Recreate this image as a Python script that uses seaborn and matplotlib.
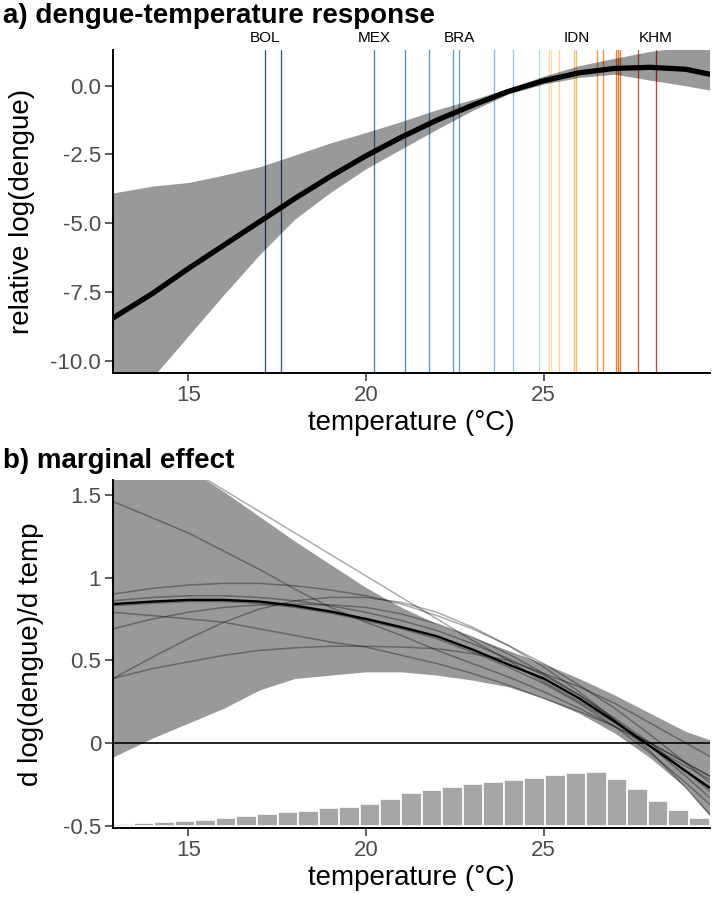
import numpy as np
import pandas as pd
import matplotlib
matplotlib.use('Agg')
import matplotlib.pyplot as plt
import matplotlib.transforms as mtransforms
from matplotlib.colors import LinearSegmentedColormap, Normalize
import seaborn as sns

# temperature grid the curves were read at
TEMP = [12.88, 14, 15, 16, 17, 18, 19, 20, 21, 22, 23, 24, 25, 26, 27, 28, 29, 29.67]

# a) response curve and its band
RESP_MEAN = [-8.45, -7.55, -6.65, -5.8, -4.95, -4.1, -3.3, -2.55, -1.87, -1.25,
             -0.71, -0.21, 0.18, 0.47, 0.63, 0.67, 0.6, 0.42]
RESP_LO = [-12.5, -10.6, -9.1, -7.6, -6.15, -4.85, -3.88, -3.02, -2.3, -1.58,
           -0.9, -0.3, 0.06, 0.3, 0.42, 0.2, 0.0, -0.16]
RESP_HI = [-3.9, -3.65, -3.52, -3.25, -2.95, -2.52, -2.08, -1.7, -1.3, -0.87,
           -0.5, -0.1, 0.35, 0.73, 1.0, 1.25, 1.42, 1.55]

# mean temperature of each country
COUNTRY_TEMP = [17.17, 17.61, 20.23, 21.11, 21.78, 22.45, 22.62, 23.61, 24.14, 24.88,
                25.14, 25.22, 25.44, 25.85, 25.92, 26.50, 26.68, 27.05, 27.10, 27.15,
                27.67, 28.16]
LABELLED = {'BOL': 17.17, 'MEX': 20.23, 'BRA': 22.62, 'IDN': 25.92, 'KHM': 28.16}
COLOR_NODE_TEMP = [17.17, 22.5, 24.9, 25.2, 26.5, 27.1, 28.16]
COLOR_NODE_HEX = ['#2a5689', '#5d9fc8', '#a9dce6', '#fde3a0', '#f59a40', '#ee752d', '#d1433a']

# b) marginal effect
MARG_MEAN = [0.84, 0.855, 0.865, 0.865, 0.855, 0.83, 0.795, 0.75, 0.70, 0.645,
             0.565, 0.475, 0.39, 0.27, 0.13, -0.02, -0.17, -0.27]
MARG_LO = [-0.085, 0.03, 0.12, 0.21, 0.32, 0.39, 0.41, 0.43, 0.43, 0.41,
           0.38, 0.34, 0.27, 0.18, 0.06, -0.09, -0.27, -0.44]
MARG_HI = [2.3, 1.95, 1.66, 1.52, 1.37, 1.22, 1.08, 0.94, 0.82, 0.72,
           0.64, 0.56, 0.48, 0.39, 0.29, 0.18, 0.07, 0.02]
MARG_CURVES = {
    'c1': [1.46, 1.36, 1.27, 1.16, 1.05, 0.93, 0.82, 0.73, 0.65, 0.56, 0.48, 0.40, 0.31, 0.21, 0.10, -0.02, -0.14, -0.22],
    'c2': [0.90, 0.935, 0.955, 0.965, 0.965, 0.95, 0.925, 0.89, 0.84, 0.77, 0.69, 0.59, 0.48, 0.35, 0.21, 0.05, -0.12, -0.24],
    'c3': [0.79, 0.77, 0.75, 0.73, 0.69, 0.65, 0.61, 0.58, 0.53, 0.48, 0.42, 0.35, 0.27, 0.19, 0.10, 0.0, -0.12, -0.20],
    'c4': [0.69, 0.75, 0.79, 0.82, 0.835, 0.84, 0.835, 0.82, 0.78, 0.72, 0.64, 0.54, 0.42, 0.29, 0.14, -0.02, -0.20, -0.33],
    'c5': [0.39, 0.52, 0.63, 0.73, 0.81, 0.86, 0.88, 0.88, 0.85, 0.79, 0.70, 0.59, 0.46, 0.31, 0.14, -0.05, -0.27, -0.43],
    'c6': [0.39, 0.45, 0.49, 0.53, 0.56, 0.575, 0.585, 0.585, 0.58, 0.57, 0.54, 0.50, 0.42, 0.34, 0.24, 0.12, 0.0, -0.08],
    'c7': [0.86, 0.88, 0.89, 0.89, 0.88, 0.86, 0.83, 0.79, 0.74, 0.68, 0.60, 0.51, 0.41, 0.29, 0.15, 0.0, -0.17, -0.29],
    'c8': [0.83, 0.845, 0.855, 0.855, 0.845, 0.82, 0.785, 0.74, 0.69, 0.63, 0.55, 0.46, 0.36, 0.24, 0.10, -0.06, -0.24, -0.37],
    'c9': [1.93, 1.79, 1.66, 1.53, 1.40, 1.27, 1.14, 1.01, 0.88, 0.75, 0.62, 0.50, 0.37, 0.25, 0.12, 0.0, -0.12, -0.20],
}
# share of observations per temperature bin (29 bins over the x range)
HIST_SHARE = [0.01, 0.014, 0.02, 0.026, 0.034, 0.046, 0.06, 0.07, 0.08, 0.09,
              0.107, 0.115, 0.131, 0.162, 0.196, 0.216, 0.236, 0.254, 0.265, 0.276,
              0.289, 0.305, 0.318, 0.325, 0.28, 0.22, 0.148, 0.096, 0.045]

X_LIM = (12.88, 29.67)
X_TICKS = [15, 20, 25]
A_TICKS = [0.0, -2.5, -5.0, -7.5, -10.0]
A_TICKLABELS = ['0.0', '-2.5', '-5.0', '-7.5', '-10.0']
B_TICKS = [1.5, 1, 0.5, 0, -0.5]
B_TICKLABELS = ['1.5', '1', '0.5', '0', '-0.5']

sns.set_theme(style='ticks')
plt.rcParams['font.family'] = ['Liberation Sans', 'DejaVu Sans']
plt.rcParams['axes.unicode_minus'] = False
plt.rcParams['text.color'] = 'black'
plt.rcParams['axes.labelcolor'] = 'black'

W, H = 714, 899
fig = plt.figure(figsize=(W / 100, H / 100), dpi=100)
ax_a = fig.add_axes([113 / W, 1 - 373 / H, 596.5 / W, 323 / H])
ax_b = fig.add_axes([113 / W, 1 - 828.3 / H, 596.5 / W, 348.3 / H])

# --- a) response
pos = [(t - COLOR_NODE_TEMP[0]) / (COLOR_NODE_TEMP[-1] - COLOR_NODE_TEMP[0]) for t in COLOR_NODE_TEMP]
cmap = LinearSegmentedColormap.from_list('temp', list(zip(pos, COLOR_NODE_HEX)))
norm = Normalize(min(COUNTRY_TEMP), max(COUNTRY_TEMP))
for t in COUNTRY_TEMP:
    ax_a.axvline(t, color=cmap(norm(t)), lw=0.95, zorder=1)

ax_a.fill_between(TEMP, RESP_LO, RESP_HI, color='black', alpha=0.4, lw=0, zorder=2)
resp = pd.DataFrame({'temp': TEMP, 'resp': RESP_MEAN})
sns.lineplot(data=resp, x='temp', y='resp', ax=ax_a, color='black', lw=3.8, zorder=3)

trans = mtransforms.blended_transform_factory(ax_a.transData, ax_a.transAxes)
for name, t in LABELLED.items():
    ax_a.text(t, 1.014, name, transform=trans, ha='center', va='bottom',
              fontsize=11, color='black', clip_on=False)

ax_a.set_ylim(-10.45, 1.3)
ax_a.set_yticks(A_TICKS)
ax_a.set_yticklabels(A_TICKLABELS)
ax_a.set_ylabel('relative log(dengue)', fontsize=20)
ax_a.yaxis.set_label_coords(-0.13, 0.5)

# --- b) marginal effect
edges = np.linspace(X_LIM[0], X_LIM[1], len(HIST_SHARE) + 1)
centers = (edges[:-1] + edges[1:]) / 2
ax_b.bar(centers, HIST_SHARE, width=edges[1] - edges[0], bottom=-0.5,
         color='#a6a6a6', edgecolor='white', lw=1.2, zorder=1)

ax_b.fill_between(TEMP, MARG_LO, MARG_HI, color='black', alpha=0.4, lw=0, zorder=2)
curves = pd.DataFrame([(k, t, v) for k, vals in MARG_CURVES.items() for t, v in zip(TEMP, vals)],
                      columns=['curve', 'temp', 'effect'])
sns.lineplot(data=curves, x='temp', y='effect', units='curve', estimator=None,
             ax=ax_b, color='black', alpha=0.33, lw=1.1, zorder=3)
marg = pd.DataFrame({'temp': TEMP, 'effect': MARG_MEAN})
sns.lineplot(data=marg, x='temp', y='effect', ax=ax_b, color='black', lw=1.7, zorder=4)
ax_b.axhline(0, color='black', lw=1.2, zorder=5)

ax_b.set_ylim(-0.516, 1.59)
ax_b.set_yticks(B_TICKS)
ax_b.set_yticklabels(B_TICKLABELS)
ax_b.set_ylabel('d log(dengue)/d temp', fontsize=20)
ax_b.yaxis.set_label_coords(-0.115, 0.5)

for ax in (ax_a, ax_b):
    ax.set_xlim(*X_LIM)
    ax.set_xticks(X_TICKS)
    ax.set_xlabel('temperature (°C)', fontsize=20, labelpad=3)
    ax.tick_params(labelsize=16, labelcolor='#4d4d4d', color='#333333',
                   length=5.5, width=1.1, pad=3)
    for s in ('left', 'bottom'):
        ax.spines[s].set_linewidth(1.4)
        ax.spines[s].set_color('black')
    sns.despine(ax=ax)

fig.text(3 / W, 1 - 23 / H, 'a) dengue-temperature response', fontsize=20,
         fontweight='bold', va='baseline', ha='left')
fig.text(3 / W, 1 - 468 / H, 'b) marginal effect', fontsize=20,
         fontweight='bold', va='baseline', ha='left')

fig.savefig('out.png', dpi=100)
